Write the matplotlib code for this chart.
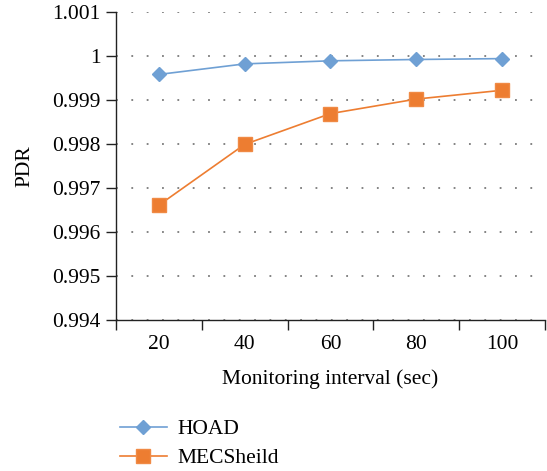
import numpy as np
import matplotlib.pyplot as plt
from matplotlib.ticker import FixedLocator

plt.rcParams['font.family'] = ['Liberation Serif', 'DejaVu Serif']

intervals = ['20', '40', '60', '80', '100']
hoad = [0.99958, 0.99982, 0.99989, 0.99992, 0.99994]
mecsheild = [0.99661, 0.99799, 0.99869, 0.99902, 0.99922]
yticks = [0.994, 0.995, 0.996, 0.997, 0.998, 0.999, 1.0, 1.001]
ytick_labels = ['0.994', '0.995', '0.996', '0.997', '0.998', '0.999', '1', '1.001']

fs = 15.5

fig = plt.figure(figsize=(5.47, 4.71), dpi=100)
ax = fig.add_axes([0.212, 0.3206, 0.784, 0.654])

x = np.arange(len(intervals))
ax.plot(x, hoad, color='#6FA0D4', lw=1.2, marker='D', ms=7.2,
        markeredgecolor='#6FA0D4', label='HOAD', zorder=3)
ax.plot(x, mecsheild, color='#ED7D31', lw=1.2, marker='s', ms=10.5,
        markeredgecolor='#F08A45', label='MECSheild', zorder=3)

ax.set_xlim(-0.5, len(intervals) - 0.5)
ax.set_ylim(0.994, 1.001)
ax.set_xticks(x)
ax.set_xticklabels(intervals)
ax.xaxis.set_minor_locator(FixedLocator(np.arange(-0.5, len(intervals), 1.0)))
ax.tick_params(axis='x', which='major', length=0, pad=11, labelsize=fs)
ax.tick_params(axis='x', which='minor', length=7, width=1, color='#222222')
ax.set_yticks(yticks)
ax.set_yticklabels(ytick_labels)
ax.tick_params(axis='y', length=7, width=1, color='#222222', labelsize=fs, pad=4)

ax.yaxis.grid(True, linestyle=(0, (1, 7.5)), color='#7a7a7a', lw=1.3)
ax.set_axisbelow(True)
for s in ['top', 'right']:
    ax.spines[s].set_visible(False)
for s in ['left', 'bottom']:
    ax.spines[s].set_color('#222222')
    ax.spines[s].set_linewidth(1)
ax.spines['bottom'].set_zorder(4)

ax.set_xlabel('Monitoring interval (sec)', fontsize=fs, labelpad=11)
ax.set_ylabel('PDR', fontsize=fs, labelpad=13)

fig.legend(loc='upper left', bbox_to_anchor=(0.203, 0.128), frameon=False,
           fontsize=fs, handlelength=2.2, handletextpad=0.5, labelspacing=0.4,
           borderaxespad=0)

fig.savefig('out.png', dpi=100)
